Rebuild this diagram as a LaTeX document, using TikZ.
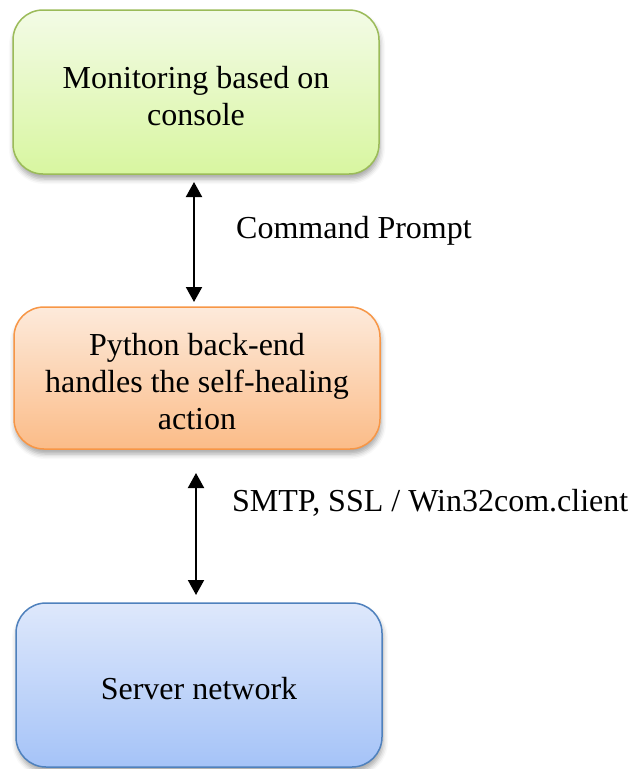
\documentclass[tikz,border=0pt]{standalone}
\usepackage{fontspec}
\setmainfont{Liberation Serif}
\usetikzlibrary{arrows.meta,shadows.blur}

\definecolor{greenTop}{HTML}{F3FBE6}
\definecolor{greenBot}{HTML}{D8F6A0}
\definecolor{greenLine}{HTML}{9BBB59}
\definecolor{orangeTop}{HTML}{FDEADB}
\definecolor{orangeBot}{HTML}{FBBC88}
\definecolor{orangeLine}{HTML}{F79646}
\definecolor{blueTop}{HTML}{DEE8FB}
\definecolor{blueBot}{HTML}{A5C3F8}
\definecolor{blueLine}{HTML}{4F81BD}

\tikzset{
  stage/.style={draw, line width=1.5pt, rounded corners=30pt,
    inner sep=0pt, minimum width=366pt,
    blur shadow={shadow xshift=1pt, shadow yshift=-5pt,
      shadow blur radius=5pt, shadow opacity=35}},
  stagetext/.style={align=center, inner sep=0pt, yshift=-4pt,
    font=\fontsize{32}{37}\selectfont},
  link/.style={line width=2pt,
    {Triangle[width=16pt,length=15pt]}-{Triangle[width=16pt,length=15pt]}},
  linklabel/.style={anchor=west, inner sep=0pt,
    font=\fontsize{32}{37}\selectfont}
}

\begin{document}
\begin{tikzpicture}[x=1pt,y=-1pt]
  \useasboundingbox (0,0) rectangle (630,769);

  % the three stages
  \node[stage, draw=greenLine, top color=greenTop, bottom color=greenBot,
        minimum height=164pt] (console) at (196,92) {};
  \node[stagetext] (consoleText) at (console.center)
        {Monitoring based on\\console};

  \node[stage, draw=orangeLine, top color=orangeTop, bottom color=orangeBot,
        minimum height=142pt] (python) at (197,378) {};
  \node[stagetext] (pythonText) at (python.center)
        {Python back-end\\handles the self-healing\\action};

  \node[stage, draw=blueLine, top color=blueTop, bottom color=blueBot,
        minimum height=164pt] (server) at (199,685) {};
  \node[stagetext] (serverText) at (server.center) {Server network};

  % two-way links between the stages
  \coordinate (a1) at (194,182);
  \coordinate (a2) at (194,302);
  \coordinate (b1) at (196,473);
  \coordinate (b2) at (196,595);
  \draw[link] (a1) -- (a2);
  \draw[link] (b1) -- (b2);

  \node[linklabel] (cmd) at (236,231) {Command Prompt};
  \node[linklabel] (smtp) at (232,503) {SMTP, SSL / Win32com.client};
\end{tikzpicture}
\end{document}
